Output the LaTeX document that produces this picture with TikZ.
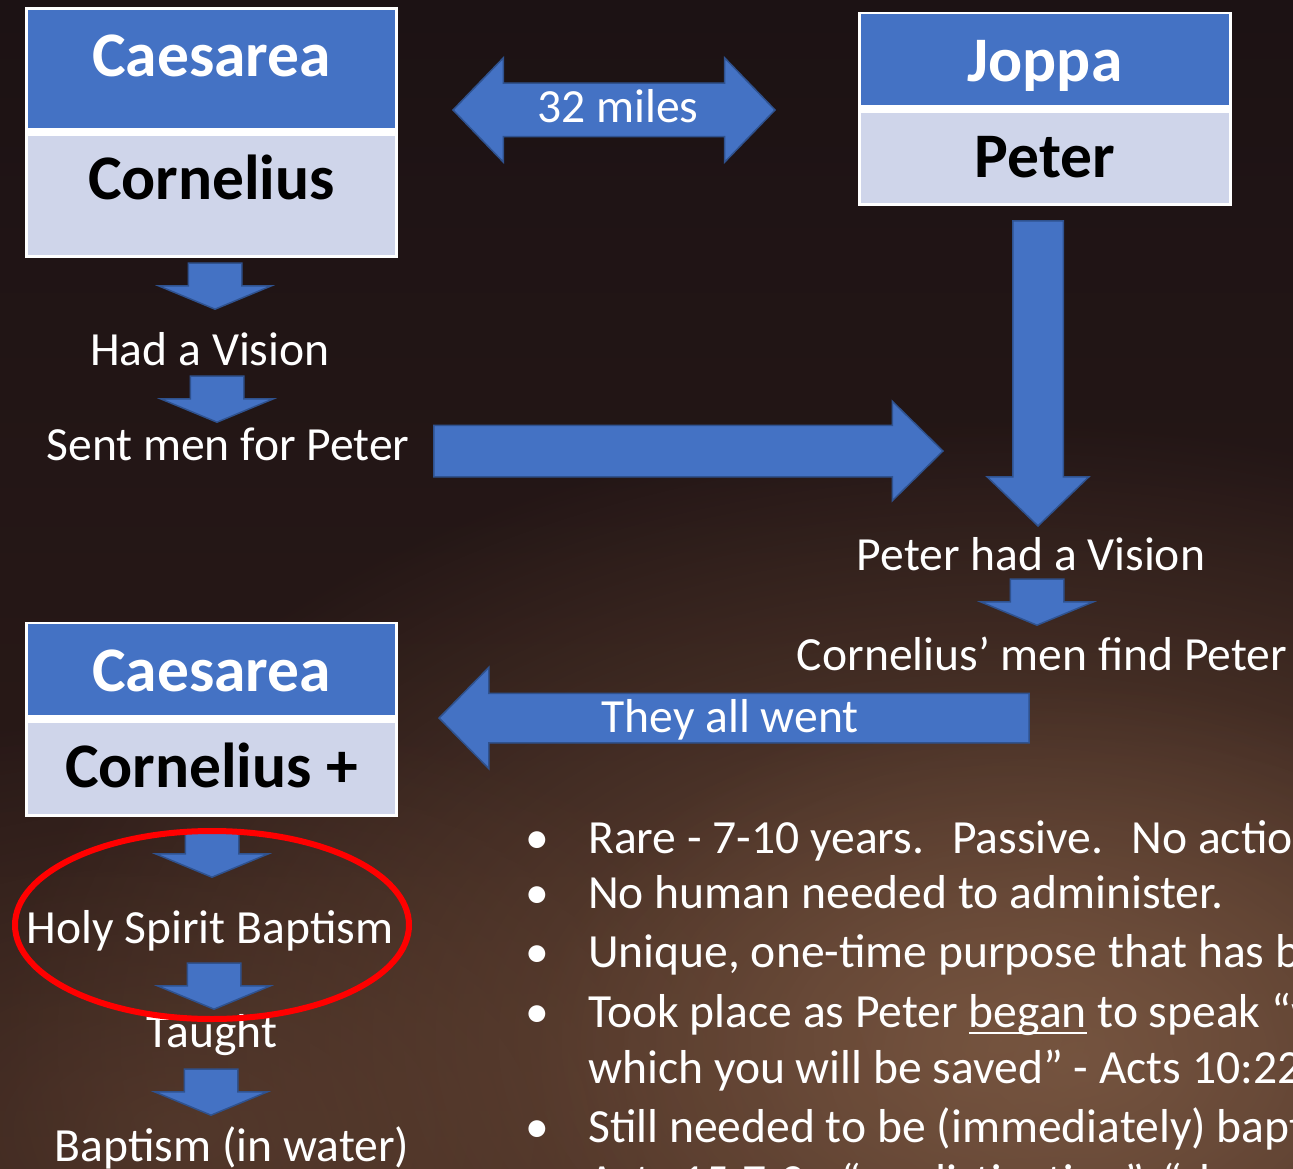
\documentclass[tikz,border=0pt]{standalone}
\usepackage{fontspec}
\setmainfont{Carlito}
\usepackage{tikz}
\usetikzlibrary{shapes.arrows,fadings}
\definecolor{hdrblue}{HTML}{4472C4}
\definecolor{cellblue}{HTML}{CFD5EA}
\definecolor{edgeblue}{HTML}{2F528F}
\definecolor{bgtop}{HTML}{1C1214}
\definecolor{bgbot}{HTML}{2E1C18}
\definecolor{cloud}{HTML}{6C4B38}
\definecolor{cloudlight}{HTML}{7E5C46}
\newcommand{\bigtxt}{\fontsize{63.5}{74}\selectfont\bfseries}
\newcommand{\midtxt}{\fontsize{47.6}{56}\selectfont}
\newcommand{\undl}[1]{\setbox0\hbox{#1}\rlap{\rule[-7pt]{\wd0}{2.4pt}}\box0\relax}
\tikzfading[name=glow, inner color=transparent!0, outer color=transparent!100]

\begin{document}
\begin{tikzpicture}[x=1pt,y=-1pt,
    every node/.style={inner sep=0pt},
    frame/.style={fill=white},
    topcell/.style={fill=hdrblue, minimum width=367},
    lowcell/.style={fill=cellblue, minimum width=367},
    hdrtext/.style={anchor=base, text=white, font=\bigtxt},
    celltext/.style={anchor=base, text=black, font=\bigtxt},
    plain/.style={anchor=base, text=white, font=\midtxt},
    bullet/.style={anchor=base west, text=white, font=\midtxt},
    blockarrow/.style={single arrow, fill=hdrblue, draw=edgeblue, line width=1.5,
      inner xsep=0pt, anchor=tip},
    smallarrow/.style={blockarrow, rotate=-90, minimum height=46, inner ysep=26,
      single arrow head extend=29.5, single arrow tip angle=135},
    ring/.style={draw=red, line width=6}]
  \useasboundingbox (0,0) rectangle (1293,1169);
  \clip (0,0) rectangle (1293,1169);
  \shade[top color=bgtop, bottom color=bgbot] (0,0) rectangle (1293,1169);
  \fill[cloud, path fading=glow] (1000,1040) ellipse [x radius=1000, y radius=620];
  \fill[cloudlight, fill opacity=.6, path fading=glow] (1080,1060) ellipse [x radius=560, y radius=380];
  \fill[cloud, fill opacity=.5, path fading=glow] (180,1130) ellipse [x radius=700, y radius=420];

  \node[frame, minimum width=373, minimum height=251] (frame1) at (211.5,132.5) {};
  \node[topcell, minimum height=118] (caes1) at (211.5,69) {};
  \node[lowcell, minimum height=119] (corn1) at (211.5,195.5) {};
  \node[hdrtext] (caes1txt) at (211.5,77) {Caesarea};
  \node[celltext] (corn1txt) at (211.5,200) {Cornelius};

  \node[frame, minimum width=374, minimum height=194] (frame2) at (1045,109) {};
  \node[topcell, minimum width=368, minimum height=91] (joppa) at (1045,59.5) {};
  \node[lowcell, minimum width=368, minimum height=90] (peter) at (1045,158) {};
  \node[hdrtext] (joppatxt) at (1045,82) {Joppa};
  \node[celltext] (petertxt) at (1045,178) {Peter};

  \node[frame, minimum width=373, minimum height=195] (frame3) at (211.5,719.5) {};
  \node[topcell, minimum height=91] (caes2) at (211.5,669.5) {};
  \node[lowcell, minimum height=91] (corn2) at (211.5,768.5) {};
  \node[hdrtext] (caes2txt) at (211.5,691) {Caesarea};
  \node[celltext] (corn2txt) at (211.5,787) {Cornelius +};

  \node[double arrow, fill=hdrblue, draw=edgeblue, line width=1.5, inner xsep=0pt,
    inner ysep=26, minimum height=322, double arrow head extend=25.5,
    double arrow tip angle=92] (miles) at (614,110) {};
  \node[plain] (milestxt) at (618,123) {32 miles};

  \node[blockarrow, rotate=-90, minimum height=305, inner ysep=24.5,
    single arrow head extend=25.5, single arrow tip angle=92] (joppadown) at (1038,527) {};
  \node[blockarrow, minimum height=509, inner ysep=25,
    single arrow head extend=24, single arrow tip angle=89] (sentarrow) at (944,451) {};
  \node[blockarrow, rotate=180, minimum height=590, inner ysep=24,
    single arrow head extend=26, single arrow tip angle=91] (wentarrow) at (438,718) {};
  \node[plain] (wenttxt) at (730,732) {They all went};

  \node[smallarrow] (down1) at (215,310) {};
  \node[plain] (vision) at (210,365) {Had a Vision};
  \node[smallarrow] (down2) at (217,423) {};
  \node[plain] (sent) at (228,460) {Sent men for Peter};

  \node[plain] (pvision) at (1031,570) {Peter had a Vision};
  \node[smallarrow] (down3) at (1037,626) {};
  \node[plain] (find) at (1042,670) {Cornelius’ men find Peter};

  \node[smallarrow] (down4) at (212,878) {};
  \node[plain] (holy) at (210,943) {Holy Spirit Baptism};
  \node[smallarrow] (down5) at (214,1010) {};
  \node[plain] (taught) at (212,1047) {Taught};
  \node[smallarrow] (down6) at (211,1116) {};
  \node[plain] (water) at (232,1161) {Baptism (in water)};

  \node[bullet] (b1) at (525,853) {\makebox[63pt][l]{•}Rare - 7-10 years.\hspace{28pt}Passive.\hspace{28pt}No action};
  \node[bullet] (b2) at (525,908) {\makebox[63pt][l]{•}No human needed to administer.};
  \node[bullet] (b3) at (525,967) {\makebox[63pt][l]{•}Unique, one-time purpose that has been};
  \node[bullet] (b4) at (525,1027) {\makebox[63pt][l]{•}Took place as Peter \undl{began} to speak “words};
  \node[bullet] (b4b) at (588,1083) {which you will be saved” - Acts 10:22};
  \node[bullet] (b5) at (525,1142) {\makebox[63pt][l]{•}Still needed to be (immediately) baptized};
  \node[bullet] (b5b) at (588,1197) {Acts 15:7-9 - “no distinction”, “cleansing”};

  \draw[ring] (212,925) ellipse [x radius=197, y radius=94];
\end{tikzpicture}
\end{document}
